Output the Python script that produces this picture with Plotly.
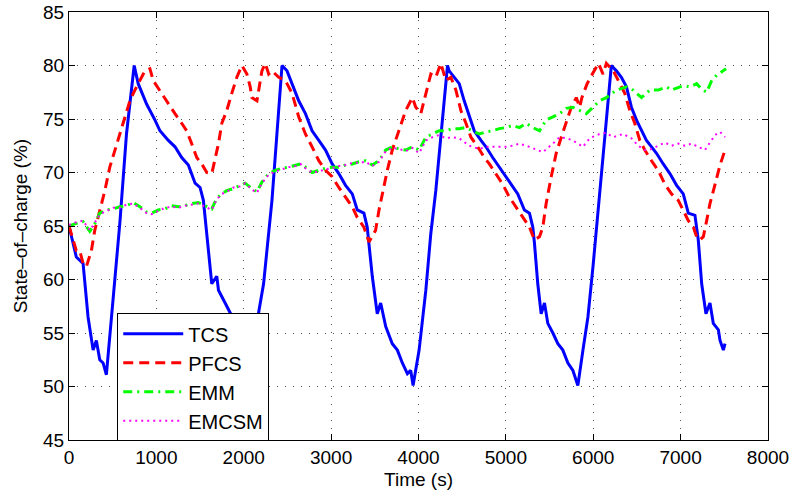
import plotly.graph_objects as go

# ---------------- data ----------------
tcs_t = [0, 84, 161, 218, 276, 313, 352, 390, 428, 486, 582, 658, 746, 792, 888, 984, 1041,
         1137, 1213, 1290, 1366, 1443, 1500, 1538, 1596, 1634, 1691, 1711, 1787, 1850, 1900,
         1950, 2000, 2050, 2100, 2170, 2227, 2323, 2438, 2495, 2553, 2629, 2706, 2782, 2859,
         2936, 3012, 3088, 3165, 3242, 3299, 3375, 3413, 3433, 3471, 3528, 3567, 3625, 3700,
         3758, 3815, 3873, 3911, 3938, 4007, 4084, 4141, 4198, 4332, 4351, 4466, 4523, 4581,
         4638, 4715, 4772, 4849, 4925, 5002, 5078, 5136, 5212, 5270, 5308, 5327, 5365, 5404,
         5442, 5480, 5538, 5595, 5652, 5710, 5767, 5824, 5882, 5939, 5997, 6073, 6131, 6207,
         6265, 6322, 6380, 6437, 6495, 6552, 6609, 6667, 6724, 6801, 6877, 6954, 7030, 7088,
         7164, 7202, 7241, 7290, 7336, 7374, 7432, 7451, 7489, 7508]
tcs_soc = [65.0, 62.1, 61.5, 56.5, 53.4, 54.3, 52.5, 52.2, 51.1, 56.5, 65.3, 73.6, 80.0, 78.3,
           76.4, 74.9, 73.9, 73.0, 72.4, 71.4, 70.7, 69.0, 68.6, 67.4, 62.7, 59.6, 60.3, 59.0,
           57.8, 56.8, 55.8, 54.5, 53.3, 52.0, 50.5, 56.9, 59.6, 67.4, 80.0, 79.5, 78.3, 76.7,
           75.5, 73.9, 73.0, 72.1, 70.8, 69.9, 68.8, 68.0, 66.5, 66.2, 64.9, 63.4, 60.3, 56.8,
           57.8, 55.6, 54.0, 53.4, 52.2, 51.2, 51.5, 50.1, 53.4, 59.0, 64.3, 68.3, 80.0, 79.5,
           78.3, 76.7, 75.2, 73.9, 73.0, 72.4, 71.4, 70.5, 69.6, 68.6, 68.0, 66.5, 66.2, 64.9,
           63.4, 59.6, 56.8, 57.8, 55.9, 55.0, 54.0, 53.4, 52.2, 51.5, 50.1, 53.4, 56.5, 61.2,
           68.0, 73.6, 80.0, 79.5, 78.9, 78.0, 76.1, 74.9, 73.9, 73.0, 72.4, 71.8, 70.8, 69.9,
           68.8, 68.0, 66.2, 66.0, 63.7, 59.6, 56.8, 57.8, 55.9, 55.3, 54.3, 53.4, 54.0]

pfcs_t = [0, 46, 84, 123, 161, 199, 256, 295, 352, 410, 467, 525, 582, 639, 697, 754, 812, 869,
          926, 964, 1060, 1137, 1213, 1290, 1347, 1404, 1462, 1519, 1577, 1634, 1672, 1711,
          1749, 1806, 1863, 1921, 1978, 2036, 2074, 2093, 2151, 2170, 2208, 2247, 2285, 2323,
          2361, 2400, 2476, 2553, 2629, 2706, 2782, 2859, 2936, 3012, 3088, 3165, 3242, 3299,
          3375, 3433, 3509, 3548, 3586, 3643, 3700, 3777, 3854, 3930, 3969, 4026, 4084, 4141,
          4198, 4256, 4313, 4370, 4428, 4485, 4543, 4600, 4677, 4753, 4811, 4887, 4964, 5040,
          5117, 5193, 5270, 5327, 5385, 5423, 5461, 5519, 5576, 5634, 5691, 5749, 5806, 5844,
          5870, 5930, 5990, 6060, 6112, 6150, 6230, 6303, 6361, 6418, 6475, 6533, 6590, 6667,
          6743, 6820, 6896, 6973, 7030, 7088, 7145, 7183, 7221, 7260, 7298, 7336, 7394, 7451,
          7508]
pfcs_soc = [65.0, 63.7, 62.7, 62.7, 61.5, 61.2, 62.7, 64.6, 66.5, 68.3, 70.5, 72.1, 73.6, 75.2,
            76.7, 77.7, 78.6, 79.5, 79.7, 78.6, 77.4, 76.4, 75.5, 74.6, 73.9, 72.7, 71.4, 70.8,
            70.0, 69.9, 71.4, 72.7, 74.6, 75.8, 77.4, 78.9, 80.0, 79.2, 78.0, 77.0, 76.7, 77.7,
            79.5, 80.2, 79.2, 79.5, 79.2, 78.9, 78.6, 77.4, 75.2, 73.6, 72.4, 71.1, 70.2, 69.6,
            68.6, 67.7, 66.8, 65.8, 64.9, 63.5, 64.6, 66.5, 68.0, 70.2, 72.1, 73.9, 75.8, 77.0,
            76.1, 75.5, 77.4, 79.2, 78.9, 80.2, 78.6, 78.9, 77.7, 75.8, 74.6, 73.3, 72.4, 71.4,
            70.8, 69.9, 68.9, 67.7, 66.8, 65.8, 64.9, 63.7, 64.0, 64.9, 67.1, 69.6, 71.8, 73.3,
            74.6, 76.1, 77.0, 76.1, 77.0, 78.3, 79.2, 80.2, 79.2, 80.2, 79.5, 78.3, 77.4, 75.8,
            74.6, 73.0, 72.1, 71.1, 70.2, 68.9, 68.0, 67.4, 66.5, 65.5, 64.9, 64.0, 63.7, 64.0,
            65.5, 67.1, 68.9, 70.7, 72.1]

emm_t = [0, 65, 161, 238, 295, 352, 428, 505, 582, 658, 735, 812, 888, 945, 1022, 1099, 1175,
         1252, 1328, 1404, 1481, 1558, 1634, 1691, 1749, 1806, 1883, 1960, 2017, 2093, 2151,
         2208, 2285, 2361, 2438, 2514, 2591, 2649, 2706, 2782, 2859, 2936, 3012, 3088, 3165,
         3242, 3318, 3395, 3471, 3548, 3625, 3700, 3777, 3854, 3930, 4007, 4084, 4160, 4236,
         4313, 4390, 4466, 4543, 4619, 4696, 4772, 4849, 4925, 5002, 5078, 5155, 5232, 5308,
         5385, 5461, 5538, 5615, 5691, 5767, 5844, 5921, 5997, 6073, 6150, 6265, 6380, 6456,
         6552, 6648, 6743, 6839, 6896, 6992, 7050, 7107, 7183, 7241, 7298, 7356, 7413, 7471,
         7520]
emm_soc = [65.0, 65.2, 65.4, 64.5, 65.2, 66.2, 66.5, 66.6, 66.8, 66.9, 67.2, 66.8, 66.3, 66.2,
           66.5, 66.6, 66.9, 66.8, 66.9, 67.1, 67.2, 66.9, 66.6, 67.6, 68.0, 68.3, 68.5, 68.8,
           69.0, 68.5, 68.2, 69.1, 69.9, 70.2, 70.4, 70.5, 70.7, 70.8, 70.5, 70.0, 70.2, 70.4,
           70.5, 70.5, 70.7, 70.8, 71.0, 71.1, 70.7, 71.1, 72.1, 72.4, 72.2, 72.1, 72.4, 72.1,
           73.3, 73.6, 73.9, 73.9, 74.1, 74.1, 74.2, 73.9, 73.6, 73.8, 73.9, 74.1, 74.2, 74.4,
           74.2, 74.6, 74.2, 73.9, 74.9, 75.2, 75.5, 76.0, 76.1, 75.8, 75.5, 76.1, 76.7, 77.0,
           77.7, 78.0, 77.7, 77.0, 77.7, 77.7, 78.0, 77.7, 78.0, 78.1, 78.0, 78.3, 77.8, 77.5,
           78.6, 79.1, 79.4, 79.7]

emcsm_t = [0, 65, 161, 238, 295, 352, 428, 505, 582, 658, 735, 812, 888, 945, 1022, 1099,
           1175, 1252, 1328, 1404, 1481, 1558, 1634, 1691, 1749, 1806, 1883, 1960, 2017, 2093,
           2151, 2208, 2285, 2361, 2438, 2514, 2591, 2649, 2706, 2782, 2859, 2936, 3012, 3088,
           3165, 3242, 3318, 3395, 3471, 3548, 3625, 3700, 3777, 3854, 3930, 4007, 4084, 4160,
           4236, 4313, 4390, 4466, 4581, 4696, 4772, 4887, 5002, 5078, 5155, 5270, 5423, 5538,
           5615, 5691, 5767, 5882, 5959, 6073, 6150, 6227, 6342, 6437, 6514, 6590, 6667, 6743,
           6820, 6896, 6973, 7050, 7126, 7202, 7279, 7336, 7394, 7451, 7508]
emcsm_soc = [65.1, 65.3, 65.5, 64.6, 65.3, 66.1, 66.4, 66.7, 66.7, 67.0, 67.1, 66.7, 66.2, 66.1,
             66.4, 66.7, 66.8, 66.7, 66.9, 67.0, 67.1, 66.8, 66.5, 67.5, 68.0, 68.2, 68.6, 68.7,
             69.0, 68.4, 68.1, 69.0, 69.8, 70.1, 70.3, 70.5, 70.6, 70.8, 70.4, 70.0, 70.1, 70.3,
             70.4, 70.6, 70.7, 70.9, 70.9, 71.0, 70.6, 71.0, 72.0, 72.3, 72.2, 72.0, 72.3, 71.8,
             73.0, 73.3, 73.5, 73.2, 73.3, 73.2, 72.5, 72.2, 72.4, 72.4, 72.4, 72.5, 72.7, 72.4,
             71.9, 72.7, 73.3, 73.2, 73.0, 72.4, 73.2, 73.6, 73.7, 73.3, 73.6, 73.2, 72.5, 72.1,
             72.2, 72.5, 72.8, 72.5, 72.7, 72.5, 72.7, 72.4, 72.1, 72.8, 73.5, 73.8, 73.3]

x_ticks = [0, 1000, 2000, 3000, 4000, 5000, 6000, 7000, 8000]
y_ticks = [45, 50, 55, 60, 65, 70, 75, 80, 85]

# ---------------- figure ----------------
FONT = "Liberation Sans, Arial, Helvetica, sans-serif"

fig = go.Figure()
fig.add_trace(go.Scatter(x=tcs_t, y=tcs_soc, mode="lines", name="TCS",
                         line=dict(color="#0000FF", width=3)))
fig.add_trace(go.Scatter(x=pfcs_t, y=pfcs_soc, mode="lines", name="PFCS",
                         line=dict(color="#FF0000", width=3, dash="10px,6px")))
fig.add_trace(go.Scatter(x=emm_t, y=emm_soc, mode="lines", name="EMM",
                         line=dict(color="#00FF00", width=3, dash="9px,5px,2px,5px")))
fig.add_trace(go.Scatter(x=emcsm_t, y=emcsm_soc, mode="lines", name="EMCSM",
                         line=dict(color="#FF00FF", width=2, dash="2px,4px")))

axis_common = dict(
    showline=True, linecolor="black", linewidth=1, mirror="ticks",
    ticks="inside", ticklen=6, tickcolor="black",
    showgrid=True, gridcolor="#555555", gridwidth=1, griddash="1px,7px",
    zeroline=False, automargin=False,
    tickfont=dict(family=FONT, size=19, color="black"),
)

fig.update_layout(
    width=793, height=495,
    margin=dict(l=69, r=25, t=12, b=55),
    paper_bgcolor="white", plot_bgcolor="white",
    font=dict(family=FONT, size=19, color="black"),
    xaxis=dict(range=[0, 8000], tickvals=x_ticks,
               title=dict(text="Time (s)", standoff=5,
                          font=dict(family=FONT, size=19, color="black")),
               **axis_common),
    yaxis=dict(range=[45, 85], tickvals=y_ticks,
               title=dict(text="State–of–charge (%)", standoff=10,
                          font=dict(family=FONT, size=19, color="black")),
               **axis_common),
    legend=dict(x=0.069, y=0.296, xanchor="left", yanchor="top",
                bgcolor="white", bordercolor="black", borderwidth=1,
                font=dict(family=FONT, size=20, color="black"),
                tracegroupgap=0, itemwidth=60),
    showlegend=True,
)

fig.write_html(
    "out.html",
    config={"displayModeBar": False},
    post_script="document.body.style.margin='0px';document.body.style.overflow='hidden';",
)
